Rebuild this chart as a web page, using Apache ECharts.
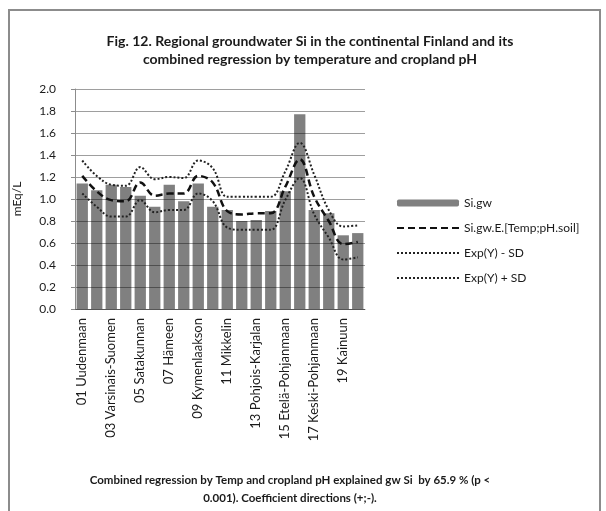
<!DOCTYPE html>
<html style="height: 100%">
<head>
    <meta charset="utf-8">
</head>
<body style="height: 100%; margin: 0; background: #fff">
<div id="container" style="width: 606px; height: 511px"></div>

<script src="https://cdn.jsdelivr.net/npm/echarts@6/dist/echarts.min.js"></script>
<script type="text/javascript">
    var regions = ['01 Uudenmaan', '02 Itä-Uudenmaan', '03 Varsinais-Suomen', '04 Turun', '05 Satakunnan',
        '06 Pirkanmaan', '07 Hämeen', '08 Päijät-Hämeen', '09 Kymenlaakson', '10 Etelä-Karjalan',
        '11 Mikkelin', '12 Kuopion', '13 Pohjois-Karjalan', '14 Keski-Suomen', '15 Etelä-Pohjanmaan',
        '16 Vaasan', '17 Keski-Pohjanmaan', '18 Pohjois-Pohjanmaan', '19 Kainuun', '20 Lapin'];
    var siGw = [1.14, 1.08, 1.13, 1.11, 1.03, 0.93, 1.13, 0.98, 1.14, 0.93,
        0.90, 0.80, 0.81, 0.89, 1.07, 1.77, 0.90, 0.87, 0.67, 0.69];
    var siGwE = [1.21, 1.07, 0.99, 0.98, 1.15, 1.03, 1.05, 1.05, 1.21, 1.15,
        0.89, 0.86, 0.87, 0.87, 1.11, 1.36, 1.02, 0.80, 0.59, 0.61];
    var expMinusSd = [1.05, 0.93, 0.84, 0.84, 0.99, 0.88, 0.90, 0.90, 1.05, 0.98,
        0.74, 0.72, 0.72, 0.72, 0.99, 1.19, 0.86, 0.65, 0.45, 0.47];
    var expPlusSd = [1.35, 1.21, 1.13, 1.12, 1.29, 1.18, 1.20, 1.19, 1.35, 1.28,
        1.02, 1.02, 1.02, 1.02, 1.25, 1.51, 1.22, 0.90, 0.75, 0.76];
    var legendNames = ['Si.gw', 'Si.gw.E.[Temp;pH.soil]', 'Exp(Y) - SD', 'Exp(Y) + SD'];

    var font = 'Lato';
    var myChart = echarts.init(document.getElementById('container'), null, {renderer: 'canvas'});

    var option = {
        animation: false,
        textStyle: {fontFamily: font},
        title: [
            {
                text: 'Fig. 12. Regional groundwater Si in the continental Finland and its\ncombined regression by temperature and cropland pH',
                left: 305,
                top: 27,
                textAlign: 'center',
                textStyle: {fontSize: 14, fontWeight: 'bold', color: '#1a1a1a', lineHeight: 18, fontFamily: font}
            },
            {
                text: 'Combined regression by Temp and cropland pH explained gw Si  by 65.9 % (p <\n0.001). Coefficient directions (+;-).',
                left: 285,
                top: 466,
                textAlign: 'center',
                textStyle: {fontSize: 11.5, fontWeight: 'bold', color: '#1a1a1a', lineHeight: 18, fontFamily: font}
            }
        ],
        graphic: [{
            type: 'rect',
            shape: {x: 9, y: 10, width: 591, height: 520},
            style: {fill: null, stroke: '#8c8c8c', lineWidth: 2},
            silent: true
        }],
        legend: {
            orient: 'vertical',
            left: 391,
            top: 192,
            itemWidth: 62,
            itemHeight: 7,
            itemGap: 13,
            textStyle: {fontSize: 12, color: '#1a1a1a', fontFamily: font},
            data: legendNames.map(function (n, i) {
                return i === 0 ? {name: n} : {name: n, itemStyle: {opacity: 0}};
            })
        },
        grid: {left: 75, right: 241, top: 89, bottom: 202},
        xAxis: {
            type: 'category',
            data: regions,
            axisLine: {lineStyle: {color: '#8c8c8c', width: 1}},
            axisTick: {interval: 0, length: 4, lineStyle: {color: '#8c8c8c'}},
            axisLabel: {interval: 1, rotate: 90, fontSize: 13, color: '#1a1a1a', margin: 9, fontFamily: font}
        },
        yAxis: {
            type: 'value',
            min: 0,
            max: 2,
            interval: 0.2,
            z: 3,
            name: 'mEq/L',
            nameLocation: 'middle',
            nameRotate: 90,
            nameGap: 52,
            nameTextStyle: {fontSize: 12, color: '#1a1a1a', fontFamily: font},
            axisLine: {show: true, lineStyle: {color: '#8c8c8c'}},
            axisTick: {show: true, length: 4, lineStyle: {color: '#8c8c8c'}},
            axisLabel: {formatter: function (v) { return v.toFixed(1); }, fontSize: 12, color: '#1a1a1a', margin: 19, fontFamily: font},
            splitLine: {lineStyle: {color: 'rgba(0,0,0,0.38)', width: 1}}
        },
        series: [
            {
                name: 'Si.gw',
                type: 'bar',
                data: siGw,
                barCategoryGap: '22%',
                itemStyle: {color: '#808080'}
            },
            {
                name: 'Si.gw.E.[Temp;pH.soil]',
                type: 'line',
                data: siGwE,
                smooth: 0.4,
                symbol: 'none',
                z: 4,
                itemStyle: {color: '#111'},
                lineStyle: {color: '#111', width: 2.5, type: [7, 4]}
            },
            {
                name: 'Exp(Y) - SD',
                type: 'line',
                data: expMinusSd,
                smooth: 0.4,
                symbol: 'none',
                z: 4,
                itemStyle: {color: '#222'},
                lineStyle: {color: '#222', width: 2, type: [2, 2]}
            },
            {
                name: 'Exp(Y) + SD',
                type: 'line',
                data: expPlusSd,
                smooth: 0.4,
                symbol: 'none',
                z: 4,
                itemStyle: {color: '#222'},
                lineStyle: {color: '#222', width: 2, type: [2, 2]}
            }
        ]
    };

    myChart.setOption(option);
</script>
</body>
</html>
